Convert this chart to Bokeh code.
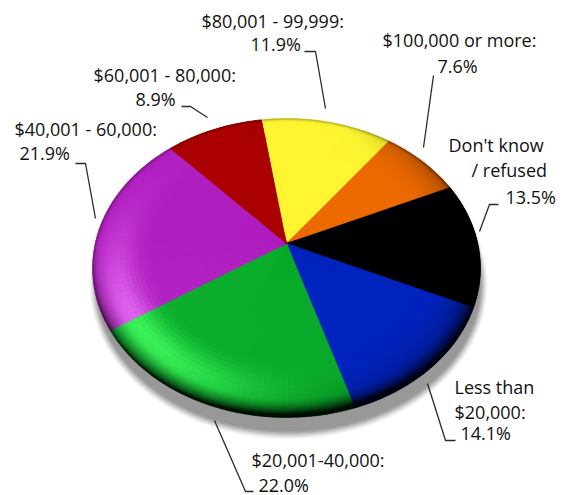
import numpy as np
from bokeh.core.properties import value
from bokeh.embed import file_html
from bokeh.models import Range1d
from bokeh.plotting import figure
from bokeh.resources import INLINE

# Income shares in percent, clockwise from the top of the disc
categories = ["$80,001 - 99,999", "$100,000 or more", "Don't know / refused",
              "Less than $20,000", "$20,001-40,000", "$40,001 - 60,000", "$60,001 - 80,000"]
shares = [11.9, 7.6, 13.5, 14.1, 22.0, 21.9, 8.9]
slice_colors = [(255, 246, 50), (236, 106, 0), (0, 0, 0), (0, 36, 190),
                (10, 170, 42), (176, 30, 192), (170, 0, 0)]

# Label lines: text, left edge, baseline
label_text = ["$80,001 - 99,999:", "11.9%", "$60,001 - 80,000:", "8.9%",
              "$40,001 - 60,000:", "21.9%", "$100,000 or more:", "7.6%",
              "Don't know", "/ refused", "13.5%", "Less than", "$20,000:", "14.1%",
              "$20,001-40,000:", "22.0%"]
label_x = [201, 250, 93, 135, 14, 19, 382, 437, 448, 471, 505, 454, 454, 460, 251, 258]
label_y = [28, 51, 82, 106, 136, 160, 47, 73, 152, 177, 204, 394, 419, 440, 467, 491.5]
LABEL_SHIFT = -7.5

# Leader lines from each label to its slice
leader_x = [[304, 315, 325], [181, 190, 207], [75, 85, 95], [433, 423],
            [498, 489, 479], [455, 445, 427], [253, 245, 214]]
leader_y = [[51, 51, 108], [106, 106, 117], [163, 163, 218], [75, 147],
            [204, 204, 231], [440, 440, 383], [491, 491, 420]]

# Perspective view of the disc: (cx, cy) is the image of its centre
cx, cy = 286.0, 243.0
a, b, k = 191.4, 145.5, 0.164
START_DEG = 98.6


def project(r, theta):
    u, v = r * np.cos(theta), r * np.sin(theta)
    w = 1 + k * v
    return cx + a * u / w, cy - b * v / w


def view_angle(theta):
    """Off-axis view: the share angles drift slightly around the rim."""
    return theta - np.radians(0.5) - np.radians(4.0) * np.cos(theta - np.radians(5))


def shade(color, r, theta):
    """Bevel lighting: lit from the lower left, falling off at the rim and on the right."""
    t = np.clip((r - 0.70) / 0.30, 0, 1)
    s = np.clip((r - 0.91) / 0.09, 0, 1)
    lit = max(0.0, np.cos(theta - np.radians(222))) ** 4
    broad = max(0.0, np.cos(theta - np.radians(195))) ** 2
    glow = (0.85 * lit + 0.2 * broad) * np.exp(-((t - 0.60) / 0.36) ** 2)
    facing = max(0.0, -np.sin(theta)) ** 1.2
    right = max(0.0, np.cos(theta + np.radians(20)))
    dark = 0.95 * facing * s ** 1.5 + 0.45 * right * t ** 2.5 + 0.35 * s ** 8
    dark = min(dark, 0.95)
    boost = np.array([50, 72, 48]) * glow
    c = (np.array(color, dtype=float) + boost) * (1 - dark)
    return "#%02x%02x%02x" % tuple(int(v) for v in np.clip(c, 0, 255))


p = figure(width=563, height=495, output_backend="svg", toolbar_location=None,
           x_range=Range1d(0, 563), y_range=Range1d(495, 0),
           min_border=0, outline_line_color=None)
p.axis.visible = False
p.grid.visible = False
p.background_fill_color = "white"
p.border_fill_color = "white"

# Soft drop shadow: stacked translucent outlines of the shifted disc
angles = np.linspace(0, 2 * np.pi, 240)
for grow, alpha in zip([5, 4, 3, 2, 1, 0, -1, -2], [0.06, 0.1, 0.14, 0.2, 0.28, 0.4, 0.6, 1.0]):
    sx, sy = project(1.0, angles)
    p.patch(cx + (sx - cx) * (1 + grow / 190) + 2, cy + (sy - cy) * (1 + grow / 150) + 16,
            fill_color="#989898", fill_alpha=alpha, line_color=None)

# Flat underlay per slice, then one mesh of shaded cells over it
radii = np.concatenate([[0.0, 0.45, 0.6], np.linspace(0.66, 0.88, 10, endpoint=False),
                        np.linspace(0.88, 1.0, 18)])
under_x, under_y, under_c = [], [], []
xs, ys, colors = [], [], []
start = np.radians(START_DEG)
for share, color in zip(shares, slice_colors):
    sweep = np.radians(share * 3.6)
    steps = max(int(share * 3.6 / 2.0), 2)
    edges = start - np.linspace(0, sweep, steps + 1)
    view = view_angle(edges)
    ux, uy = project(1.0, view)
    under_x.append([cx] + list(ux))
    under_y.append([cy] + list(uy))
    under_c.append(shade(color, 0.3, 0.0))
    for t0, t1 in zip(view[:-1], view[1:]):
        mid = 0.5 * (t0 + t1)
        for r0, r1 in zip(radii[:-1], radii[1:]):
            qx0, qy0 = project(r0, t0)
            qx1, qy1 = project(r1, t0)
            qx2, qy2 = project(r1, t1)
            qx3, qy3 = project(r0, t1)
            xs.append([qx0, qx1, qx2, qx3])
            ys.append([qy0, qy1, qy2, qy3])
            colors.append(shade(color, 0.5 * (r0 + r1), mid))
    start -= sweep

p.patches(under_x, under_y, fill_color=under_c, line_color=None)
p.patches(xs, ys, fill_color=colors, line_color=colors, line_width=0.5)

p.multi_line(leader_x, leader_y, line_color="#2a2a2a", line_width=1.3)
p.text(label_x, [y + LABEL_SHIFT for y in label_y], text=label_text,
       text_font=value("Open Sans"), text_font_size="18px", text_color="#111111",
       text_align="left", text_baseline="alphabetic")

open("out.html", "w").write(file_html(p, INLINE))
